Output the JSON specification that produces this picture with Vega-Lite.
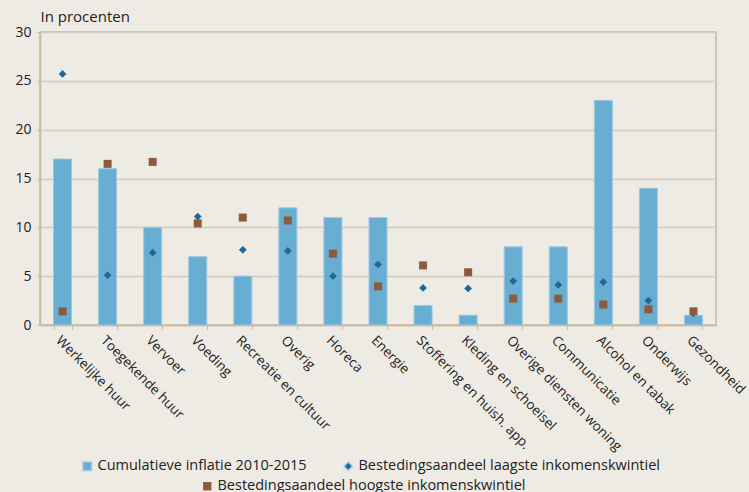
{
  "$schema": "https://vega.github.io/schema/vega-lite/v6.json",
  "width": 676,
  "height": 293,
  "autosize": {"type": "none"},
  "padding": {"left": 40, "top": 32, "right": 33, "bottom": 167},
  "background": "#eeebe4",
  "config": {
    "font": "Open Sans",
    "view": {"stroke": "#c9b99f", "strokeWidth": 1.5},
    "axis": {"labelFont": "Open Sans", "labelColor": "#222222", "labelFontSize": 13, "domainColor": "#c9b99f", "tickColor": "#c9b99f", "gridColor": "#d6cab8", "gridWidth": 1.5, "domainWidth": 1.5},
    "legend": {"labelFont": "Open Sans", "labelFontSize": 14.5, "labelColor": "#222222", "labelLimit": 400, "symbolSize": 70, "symbolOffset": 0, "labelOffset": 3}
  },
  "data": {"values": [
    {"cat": "Werkelijke huur", "serie": "Cumulatieve inflatie 2010-2015", "waarde": 17},
    {"cat": "Toegekende huur", "serie": "Cumulatieve inflatie 2010-2015", "waarde": 16},
    {"cat": "Vervoer", "serie": "Cumulatieve inflatie 2010-2015", "waarde": 10},
    {"cat": "Voeding", "serie": "Cumulatieve inflatie 2010-2015", "waarde": 7},
    {"cat": "Recreatie en cultuur", "serie": "Cumulatieve inflatie 2010-2015", "waarde": 5},
    {"cat": "Overig", "serie": "Cumulatieve inflatie 2010-2015", "waarde": 12},
    {"cat": "Horeca", "serie": "Cumulatieve inflatie 2010-2015", "waarde": 11},
    {"cat": "Energie", "serie": "Cumulatieve inflatie 2010-2015", "waarde": 11},
    {"cat": "Stoffering en huish. app.", "serie": "Cumulatieve inflatie 2010-2015", "waarde": 2},
    {"cat": "Kleding en schoeisel", "serie": "Cumulatieve inflatie 2010-2015", "waarde": 1},
    {"cat": "Overige diensten woning", "serie": "Cumulatieve inflatie 2010-2015", "waarde": 8},
    {"cat": "Communicatie", "serie": "Cumulatieve inflatie 2010-2015", "waarde": 8},
    {"cat": "Alcohol en tabak", "serie": "Cumulatieve inflatie 2010-2015", "waarde": 23},
    {"cat": "Onderwijs", "serie": "Cumulatieve inflatie 2010-2015", "waarde": 14},
    {"cat": "Gezondheid", "serie": "Cumulatieve inflatie 2010-2015", "waarde": 1},
    {"cat": "Werkelijke huur", "serie": "Bestedingsaandeel laagste inkomenskwintiel", "waarde": 25.7},
    {"cat": "Toegekende huur", "serie": "Bestedingsaandeel laagste inkomenskwintiel", "waarde": 5.1},
    {"cat": "Vervoer", "serie": "Bestedingsaandeel laagste inkomenskwintiel", "waarde": 7.4},
    {"cat": "Voeding", "serie": "Bestedingsaandeel laagste inkomenskwintiel", "waarde": 11.1},
    {"cat": "Recreatie en cultuur", "serie": "Bestedingsaandeel laagste inkomenskwintiel", "waarde": 7.7},
    {"cat": "Overig", "serie": "Bestedingsaandeel laagste inkomenskwintiel", "waarde": 7.6},
    {"cat": "Horeca", "serie": "Bestedingsaandeel laagste inkomenskwintiel", "waarde": 5.0},
    {"cat": "Energie", "serie": "Bestedingsaandeel laagste inkomenskwintiel", "waarde": 6.2},
    {"cat": "Stoffering en huish. app.", "serie": "Bestedingsaandeel laagste inkomenskwintiel", "waarde": 3.8},
    {"cat": "Kleding en schoeisel", "serie": "Bestedingsaandeel laagste inkomenskwintiel", "waarde": 3.75},
    {"cat": "Overige diensten woning", "serie": "Bestedingsaandeel laagste inkomenskwintiel", "waarde": 4.5},
    {"cat": "Communicatie", "serie": "Bestedingsaandeel laagste inkomenskwintiel", "waarde": 4.1},
    {"cat": "Alcohol en tabak", "serie": "Bestedingsaandeel laagste inkomenskwintiel", "waarde": 4.4},
    {"cat": "Onderwijs", "serie": "Bestedingsaandeel laagste inkomenskwintiel", "waarde": 2.5},
    {"cat": "Gezondheid", "serie": "Bestedingsaandeel laagste inkomenskwintiel", "waarde": 1.2},
    {"cat": "Werkelijke huur", "serie": "Bestedingsaandeel hoogste inkomenskwintiel", "waarde": 1.4},
    {"cat": "Toegekende huur", "serie": "Bestedingsaandeel hoogste inkomenskwintiel", "waarde": 16.5},
    {"cat": "Vervoer", "serie": "Bestedingsaandeel hoogste inkomenskwintiel", "waarde": 16.7},
    {"cat": "Voeding", "serie": "Bestedingsaandeel hoogste inkomenskwintiel", "waarde": 10.4},
    {"cat": "Recreatie en cultuur", "serie": "Bestedingsaandeel hoogste inkomenskwintiel", "waarde": 11.0},
    {"cat": "Overig", "serie": "Bestedingsaandeel hoogste inkomenskwintiel", "waarde": 10.7},
    {"cat": "Horeca", "serie": "Bestedingsaandeel hoogste inkomenskwintiel", "waarde": 7.3},
    {"cat": "Energie", "serie": "Bestedingsaandeel hoogste inkomenskwintiel", "waarde": 3.95},
    {"cat": "Stoffering en huish. app.", "serie": "Bestedingsaandeel hoogste inkomenskwintiel", "waarde": 6.1},
    {"cat": "Kleding en schoeisel", "serie": "Bestedingsaandeel hoogste inkomenskwintiel", "waarde": 5.4},
    {"cat": "Overige diensten woning", "serie": "Bestedingsaandeel hoogste inkomenskwintiel", "waarde": 2.7},
    {"cat": "Communicatie", "serie": "Bestedingsaandeel hoogste inkomenskwintiel", "waarde": 2.7},
    {"cat": "Alcohol en tabak", "serie": "Bestedingsaandeel hoogste inkomenskwintiel", "waarde": 2.1},
    {"cat": "Onderwijs", "serie": "Bestedingsaandeel hoogste inkomenskwintiel", "waarde": 1.6},
    {"cat": "Gezondheid", "serie": "Bestedingsaandeel hoogste inkomenskwintiel", "waarde": 1.4}
  ]},
  "encoding": {
    "x": {"field": "cat", "type": "nominal", "sort": null, "title": null,
      "scale": {"paddingInner": 0.6, "paddingOuter": 0.3},
      "axis": {"labelAngle": 45, "labelAlign": "left", "labelBaseline": "top", "labelPadding": 4, "tickBand": "extent", "tickSize": 4, "labelFontSize": 13.5, "labelLimit": 300, "labelOverlap": false}},
    "y": {"field": "waarde", "type": "quantitative",
      "scale": {"domain": [0, 30]},
      "title": "In procenten",
      "axis": {"values": [0, 5, 10, 15, 20, 25, 30], "tickSize": 3, "labelPadding": 6, "labelFontSize": 14,
        "titleAngle": 0, "titleX": 0, "titleY": -8, "titleAlign": "left", "titleBaseline": "bottom",
        "titleFont": "Open Sans", "titleFontWeight": "normal", "titleFontSize": 15, "titleColor": "#222222"}}
  },
  "layer": [
    {
      "transform": [{"filter": "datum.serie === 'Cumulatieve inflatie 2010-2015'"}],
      "mark": {"type": "bar", "stroke": "#9cc9e2", "strokeWidth": 1},
      "encoding": {
        "color": {"field": "serie", "type": "nominal", "title": null,
          "scale": {"domain": ["Cumulatieve inflatie 2010-2015", "Bestedingsaandeel laagste inkomenskwintiel"], "range": ["#67aed2", "#1b6a9b"]},
          "legend": {"orient": "none", "legendX": 40, "legendY": 427, "direction": "horizontal", "columns": 2, "gridAlign": "none", "columnPadding": 34}}
      }
    },
    {
      "transform": [{"filter": "datum.serie === 'Bestedingsaandeel laagste inkomenskwintiel'"}],
      "mark": {"type": "point", "filled": true, "opacity": 1, "size": 60},
      "encoding": {
        "color": {"field": "serie", "type": "nominal", "title": null},
        "shape": {"field": "serie", "type": "nominal", "title": null,
          "scale": {"domain": ["Cumulatieve inflatie 2010-2015", "Bestedingsaandeel laagste inkomenskwintiel"], "range": ["square", "diamond"]}}
      }
    },
    {
      "transform": [{"filter": "datum.serie === 'Bestedingsaandeel hoogste inkomenskwintiel'"}],
      "mark": {"type": "point", "filled": true, "opacity": 1, "size": 64, "shape": "square"},
      "encoding": {
        "fill": {"field": "serie", "type": "nominal", "title": null,
          "scale": {"domain": ["Bestedingsaandeel hoogste inkomenskwintiel"], "range": ["#8b5b3b"]},
          "legend": {"orient": "none", "legendX": 160, "legendY": 447, "symbolType": "square"}}
      }
    }
  ]
}
